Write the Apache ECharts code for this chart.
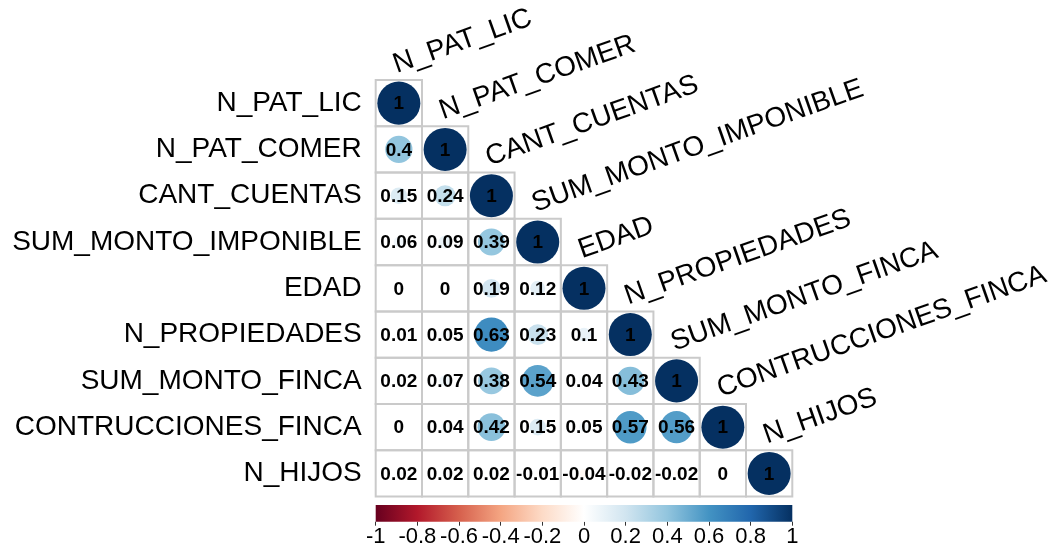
<!DOCTYPE html>
<html>
<head>
<meta charset="utf-8">
<title>Correlation matrix</title>
<script src="https://cdn.jsdelivr.net/npm/echarts@6/dist/echarts.min.js"></script>
<style>
  html, body { margin: 0; padding: 0; background: #ffffff; }
  #chart { width: 1058px; height: 552px; }
</style>
</head>
<body>
<div id="chart"></div>
<script>
// Variable names (rows top to bottom, columns left to right)
const varNames = [
  'N_PAT_LIC', 'N_PAT_COMER', 'CANT_CUENTAS', 'SUM_MONTO_IMPONIBLE', 'EDAD',
  'N_PROPIEDADES', 'SUM_MONTO_FINCA', 'CONTRUCCIONES_FINCA', 'N_HIJOS'
];

// Lower-triangle correlation coefficients, one array per row
const rowNPatLic      = [1];
const rowNPatComer    = [0.4, 1];
const rowCantCuentas  = [0.15, 0.24, 1];
const rowSumImponible = [0.06, 0.09, 0.39, 1];
const rowEdad         = [0, 0, 0.19, 0.12, 1];
const rowNPropiedades = [0.01, 0.05, 0.63, 0.23, 0.1, 1];
const rowSumFinca     = [0.02, 0.07, 0.38, 0.54, 0.04, 0.43, 1];
const rowConstrFinca  = [0, 0.04, 0.42, 0.15, 0.05, 0.57, 0.56, 1];
const rowNHijos       = [0.02, 0.02, 0.02, -0.01, -0.04, -0.02, -0.02, 0, 1];

const corrRows = [rowNPatLic, rowNPatComer, rowCantCuentas, rowSumImponible, rowEdad,
                  rowNPropiedades, rowSumFinca, rowConstrFinca, rowNHijos];

// Colour legend ticks
const legendTicks = [-1, -0.8, -0.6, -0.4, -0.2, 0, 0.2, 0.4, 0.6, 0.8, 1];

// Diverging red-white-blue palette
const rdbu = ['#67001F', '#B2182B', '#D6604D', '#F4A582', '#FDDBC7', '#FFFFFF',
              '#D1E5F0', '#92C5DE', '#4393C3', '#2166AC', '#053061'];

function hexToRgb(h) {
  return [parseInt(h.slice(1, 3), 16), parseInt(h.slice(3, 5), 16), parseInt(h.slice(5, 7), 16)];
}
function corrColor(v) {
  const t = (Math.max(-1, Math.min(1, v)) + 1) / 2 * (rdbu.length - 1);
  const i = Math.min(Math.floor(t), rdbu.length - 2);
  const f = t - i;
  const a = hexToRgb(rdbu[i]), b = hexToRgb(rdbu[i + 1]);
  const c = a.map((x, k) => Math.round(x + (b[k] - x) * f));
  return 'rgb(' + c.join(',') + ')';
}

const cellData = [];
corrRows.forEach((row, r) => {
  row.forEach((v, c) => cellData.push([c, r, v]));
});

const FONT = '"Liberation Sans", Arial, Helvetica, sans-serif';
const LABEL_ROT = 19.5 * Math.PI / 180;

function renderCell(params, api) {
  const col = api.value(0), row = api.value(1), v = api.value(2);
  const p = api.coord([col, row]);
  const s = api.size([1, 1]);
  const w = s[0], h = s[1];
  const children = [{
    type: 'rect',
    shape: { x: p[0] - w / 2, y: p[1] - h / 2, width: w, height: h },
    style: { fill: null, stroke: '#CACACA', lineWidth: 2 }
  }];
  if (Math.abs(v) > 0) {
    children.push({
      type: 'circle',
      shape: { cx: p[0], cy: p[1], r: Math.sqrt(Math.abs(v)) * w * 0.465 },
      style: { fill: corrColor(v) }
    });
  }
  children.push({
    type: 'text',
    x: p[0], y: p[1] + 1,
    style: {
      text: String(v), fill: '#000', font: 'bold 19px ' + FONT,
      align: 'center', verticalAlign: 'middle'
    }
  });
  if (col === row) {
    children.push({
      type: 'text',
      x: p[0], y: p[1] - h / 2 - 1,
      rotation: LABEL_ROT,
      style: {
        text: varNames[col], fill: '#000', font: '28px ' + FONT,
        align: 'left', verticalAlign: 'bottom'
      }
    });
  }
  return { type: 'group', children: children };
}

function renderLegend(params, api) {
  const a = api.coord([legendTicks[0], 1]);
  const b = api.coord([legendTicks[legendTicks.length - 1], 0]);
  const stops = rdbu.map((c, i) => ({ offset: i / (rdbu.length - 1), color: c }));
  return {
    type: 'rect',
    shape: { x: a[0], y: a[1], width: b[0] - a[0], height: b[1] - a[1] },
    style: { fill: new echarts.graphic.LinearGradient(0, 0, 1, 0, stops) }
  };
}

const chart = echarts.init(document.getElementById('chart'), null, { renderer: 'canvas' });
chart.setOption({
  animation: false,
  backgroundColor: '#ffffff',
  grid: [
    { left: 375.7, top: 80, width: 416.6, height: 416.6 },
    { left: 375.7, top: 505, width: 416.6, height: 16.7 }
  ],
  xAxis: [
    { gridIndex: 0, type: 'category', data: varNames, show: false },
    {
      gridIndex: 1, type: 'value', min: -1, max: 1, interval: 0.2,
      axisLine: { show: false },
      splitLine: { show: false },
      axisTick: { show: true, length: 4, lineStyle: { color: '#333', width: 1 } },
      axisLabel: {
        fontSize: 22, color: '#000', margin: 4, fontFamily: FONT,
        showMinLabel: true, showMaxLabel: true,
        formatter: v => String(Math.round(v * 10) / 10)
      }
    }
  ],
  yAxis: [
    {
      gridIndex: 0, type: 'category', data: varNames, inverse: true,
      axisLine: { show: false }, axisTick: { show: false }, splitLine: { show: false },
      axisLabel: { fontSize: 28, color: '#000', margin: 14, interval: 0, fontFamily: FONT }
    },
    { gridIndex: 1, type: 'value', min: 0, max: 1, show: false }
  ],
  series: [
    {
      type: 'custom', xAxisIndex: 0, yAxisIndex: 0,
      data: cellData, renderItem: renderCell, clip: false
    },
    {
      type: 'custom', xAxisIndex: 1, yAxisIndex: 1,
      data: [[0, 0]], renderItem: renderLegend, clip: false
    }
  ]
});
</script>
</body>
</html>
